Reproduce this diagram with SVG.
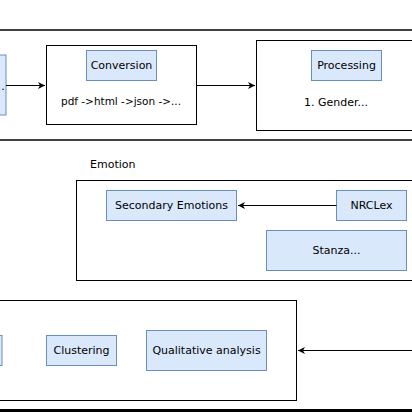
<svg xmlns="http://www.w3.org/2000/svg" width="412" height="412" viewBox="0 0 412 412">
<defs>
<style>
.t{font-family:"DejaVu Sans",Verdana,sans-serif;font-size:11px;fill:#000;text-anchor:middle;dominant-baseline:central}
.b{fill:#dae8fc;stroke:#6c8ebf;stroke-width:1}
.c{fill:#fff;stroke:#000;stroke-width:1}
.l{stroke:#000;stroke-width:1;fill:none}
.s{stroke:#000;stroke-width:1.5;fill:none}
</style>
<marker id="ah" markerWidth="8" markerHeight="8" refX="7" refY="4" orient="auto" markerUnits="userSpaceOnUse">
<path d="M0,0.5 L7,4 L0,7.5 L2,4 Z" fill="#000"/>
</marker>
</defs>
<rect width="412" height="412" fill="#fff"/>
<g id="separators">
<line class="s" x1="0" y1="30" x2="412" y2="30"/>
<line class="s" x1="0" y1="140" x2="412" y2="140"/>
<line x1="0" y1="410.5" x2="412" y2="410.5" stroke="#000" stroke-width="3"/>
</g>
<g id="input-partial">
<rect class="b" x="-60" y="55" width="66" height="60"/>
<text class="t" x="3" y="86">.</text>
</g>
<g id="conversion-group">
<rect class="c" x="46.5" y="45.5" width="150" height="79"/>
</g>
<g id="conversion">
<rect class="b" x="86.5" y="50.5" width="70" height="30"/>
<text class="t" x="121.5" y="65.5">Conversion</text>
<text class="t" x="61" y="101" style="text-anchor:start" textLength="120" lengthAdjust="spacingAndGlyphs">pdf -&gt;html -&gt;json -&gt;...</text>
</g>
<g id="processing-group">
<rect class="c" x="256.5" y="40.5" width="170" height="90"/>
</g>
<g id="processing">
<rect class="b" x="311.5" y="50.5" width="70" height="30"/>
<text class="t" x="346.5" y="65.5">Processing</text>
<text class="t" x="304" y="102" style="text-anchor:start">1. Gender...</text>
</g>
<g id="emotion-group">
<text class="t" x="90" y="164.5" style="text-anchor:start">Emotion</text>
<rect class="c" x="76.5" y="180.5" width="350" height="100"/>
</g>
<g id="secondary-emotions">
<rect class="b" x="106.5" y="190.5" width="130" height="30"/>
<text class="t" x="171.5" y="205.5">Secondary Emotions</text>
</g>
<g id="nrclex">
<rect class="b" x="336.5" y="190.5" width="70" height="30"/>
<text class="t" x="371.5" y="205.5">NRCLex</text>
</g>
<g id="stanza">
<rect class="b" x="266.5" y="230.5" width="140" height="40"/>
<text class="t" x="336.5" y="250.5">Stanza...</text>
</g>
<g id="analysis-group">
<rect class="c" x="-20" y="300.5" width="316.5" height="100"/>
</g>
<g id="analysis-partial">
<rect class="b" x="-60" y="335.5" width="62" height="30"/>
</g>
<g id="clustering">
<rect class="b" x="46.5" y="335.5" width="70" height="30"/>
<text class="t" x="81.5" y="350.5">Clustering</text>
</g>
<g id="qualitative-analysis">
<rect class="b" x="146.5" y="330.5" width="120" height="40"/>
<text class="t" x="206.5" y="350.5">Qualitative analysis</text>
</g>
<g id="connectors">
<line class="l" x1="6" y1="85.5" x2="45" y2="85.5" marker-end="url(#ah)"/>
<line class="l" x1="196.5" y1="85.5" x2="255" y2="85.5" marker-end="url(#ah)"/>
<line class="l" x1="336.5" y1="205.5" x2="238" y2="205.5" marker-end="url(#ah)"/>
<line class="l" x1="412" y1="350.5" x2="298" y2="350.5" marker-end="url(#ah)"/>
</g>
</svg>
